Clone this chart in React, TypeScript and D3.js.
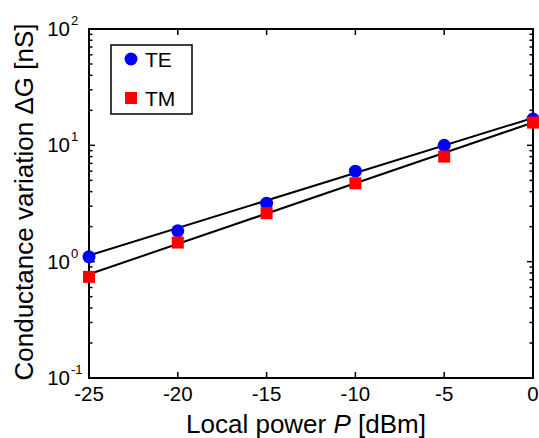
import React from "react";
import * as d3 from "d3";

const powers = [-25, -20, -15, -10, -5, 0];
const teValues = [1.1, 1.84, 3.18, 6.0, 10.0, 16.8];
const tmValues = [0.74, 1.46, 2.61, 4.72, 8.0, 15.7];
const fitPowers = [-25, 0];
const teFit = [1.13, 17.2];
const tmFit = [0.78, 15.7];
const xTicks = [-25, -20, -15, -10, -5, 0];
const yDecades = [-1, 0, 1, 2];
const legendLabels = ["TE", "TM"];

const W = 539;
const H = 438;
const M = { left: 89, right: 533, top: 29, bottom: 378 };
const FONT = "'Liberation Sans', Arial, sans-serif";

export default function App() {
  const x = d3.scaleLinear().domain([-25, 0]).range([M.left, M.right]);
  const y = d3.scaleLog().domain([0.1, 100]).range([M.bottom, M.top]);

  const minor: number[] = [];
  for (let d = -1; d < 2; d++) {
    for (let k = 2; k <= 9; k++) minor.push(k * Math.pow(10, d));
  }

  const line = d3
    .line<number>()
    .x((_, i) => x(fitPowers[i]))
    .y((v) => y(v));

  return (
    <div style={{ position: "absolute", left: 0, top: 0, width: W, height: H, overflow: "hidden" }}>
      <svg width={W} height={H} style={{ display: "block", background: "#fff" }} fontFamily={FONT}>
        <rect x={0} y={0} width={W} height={H} fill="#fff" />
        {/* fit lines */}
        <path d={line(teFit) || ""} stroke="#000" strokeWidth={2} fill="none" />
        <path d={line(tmFit) || ""} stroke="#000" strokeWidth={2} fill="none" />
        {/* frame */}
        <rect
          x={M.left}
          y={M.top}
          width={M.right - M.left}
          height={M.bottom - M.top}
          fill="none"
          stroke="#000"
          strokeWidth={2}
        />
        {/* x ticks */}
        {xTicks.map((t) => (
          <g key={"xt" + t}>
            <line x1={x(t)} x2={x(t)} y1={M.bottom} y2={M.bottom - 6} stroke="#000" strokeWidth={1.5} />
            <line x1={x(t)} x2={x(t)} y1={M.top} y2={M.top + 6} stroke="#000" strokeWidth={1.5} />
            <text x={x(t)} y={401} textAnchor="middle" fontSize={20.5} fill="#000">
              {t}
            </text>
          </g>
        ))}
        {/* y ticks */}
        {yDecades.map((d) => {
          const v = Math.pow(10, d);
          return (
            <g key={"yd" + d}>
              <line x1={M.left} x2={M.left + 6} y1={y(v)} y2={y(v)} stroke="#000" strokeWidth={1.5} />
              <line x1={M.right} x2={M.right - 6} y1={y(v)} y2={y(v)} stroke="#000" strokeWidth={1.5} />
              <text x={70} y={y(v) + 7} textAnchor="end" fontSize={20.5} fill="#000">
                10
              </text>
              <text x={71} y={y(v) - 4} textAnchor="start" fontSize={13} fill="#000">
                {d}
              </text>
            </g>
          );
        })}
        {minor.map((v) => (
          <g key={"ym" + v}>
            <line x1={M.left} x2={M.left + 3.5} y1={y(v)} y2={y(v)} stroke="#000" strokeWidth={1.5} />
            <line x1={M.right} x2={M.right - 3.5} y1={y(v)} y2={y(v)} stroke="#000" strokeWidth={1.5} />
          </g>
        ))}
        {/* markers */}
        {powers.map((p, i) => (
          <circle key={"te" + p} cx={x(p)} cy={y(teValues[i])} r={6.5} fill="#0000ff" />
        ))}
        {powers.map((p, i) => (
          <rect key={"tm" + p} x={x(p) - 6} y={y(tmValues[i]) - 6} width={12} height={12} fill="#ff0000" />
        ))}
        {/* legend */}
        <rect x={111} y={45} width={81} height={69} fill="#fff" stroke="#000" strokeWidth={1.5} />
        <circle cx={131} cy={59} r={6.5} fill="#0000ff" />
        <rect x={125} y={92} width={12} height={12} fill="#ff0000" />
        <text x={145} y={66.5} fontSize={21} fill="#000">
          {legendLabels[0]}
        </text>
        <text x={145} y={105.5} fontSize={21} fill="#000">
          {legendLabels[1]}
        </text>
        {/* axis labels */}
        <text x={306} y={433} textAnchor="middle" fontSize={26} fill="#000">
          Local power <tspan fontStyle="italic">P</tspan> [dBm]
        </text>
        <text
          transform={`translate(33, 202) rotate(-90)`}
          textAnchor="middle"
          fontSize={26}
          fill="#000"
        >
          Conductance variation ΔG [nS]
        </text>
      </svg>
    </div>
  );
}
